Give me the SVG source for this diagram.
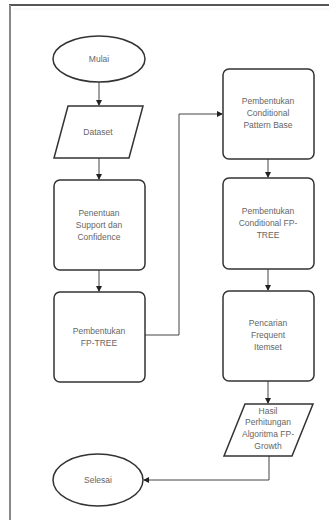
<svg xmlns="http://www.w3.org/2000/svg" width="329" height="520" viewBox="0 0 329 520">
<style>
.s{fill:#fff;stroke:#333;stroke-width:1.5}
.t{font-family:"Liberation Sans",Arial,sans-serif;font-size:8.5px;fill:#666;text-anchor:middle}
.c{fill:none;stroke:#444;stroke-width:1}
</style>
<defs>
<marker id="a" markerWidth="6" markerHeight="6" refX="5" refY="3" orient="auto" markerUnits="userSpaceOnUse">
<path d="M0,0 L6,3 L0,6 Z" fill="#222"/>
</marker>
</defs>
<rect width="329" height="520" fill="#fff"/>
<line x1="9" y1="5" x2="329" y2="5" stroke="#555" stroke-width="2"/>
<line x1="10" y1="5" x2="10" y2="520" stroke="#888" stroke-width="2"/>
<line x1="13" y1="9" x2="329" y2="9" stroke="#eee" stroke-width="1"/>
<g id="connectors">
<path class="c" d="M99,82 V105" marker-end="url(#a)"/>
<path class="c" d="M99,158 V179" marker-end="url(#a)"/>
<path class="c" d="M99,270 V291" marker-end="url(#a)"/>
<path class="c" d="M145,335 H179 V114 H222" marker-end="url(#a)"/>
<path class="c" d="M268,159 V177" marker-end="url(#a)"/>
<path class="c" d="M268,269 V290" marker-end="url(#a)"/>
<path class="c" d="M268,381 V403" marker-end="url(#a)"/>
<path class="c" d="M269,456 V480 H144" marker-end="url(#a)"/>
</g>
<g id="mulai">
<ellipse class="s" cx="99" cy="59" rx="46" ry="23"/>
<text class="t" x="99" y="62">Mulai</text>
</g>
<g id="dataset">
<polygon class="s" points="68,106 143,106 129,158 54,158"/>
<text class="t" x="98" y="135">Dataset</text>
</g>
<g id="penentuan">
<rect class="s" x="54" y="180" width="91" height="90" rx="6"/>
<text class="t" x="99" y="216">Penentuan</text>
<text class="t" x="99" y="228">Support dan</text>
<text class="t" x="99" y="240">Confidence</text>
</g>
<g id="fptree">
<rect class="s" x="54" y="292" width="91" height="90" rx="6"/>
<text class="t" x="99" y="334">Pembentukan</text>
<text class="t" x="99" y="346">FP-TREE</text>
</g>
<g id="cpb">
<rect class="s" x="223" y="69" width="91" height="90" rx="6"/>
<text class="t" x="268" y="104">Pembentukan</text>
<text class="t" x="268" y="116">Conditional</text>
<text class="t" x="268" y="128">Pattern Base</text>
</g>
<g id="cfptree">
<rect class="s" x="223" y="178" width="91" height="91" rx="6"/>
<text class="t" x="268" y="214">Pembentukan</text>
<text class="t" x="268" y="226">Conditional FP-</text>
<text class="t" x="268" y="238">TREE</text>
</g>
<g id="pencarian">
<rect class="s" x="223" y="291" width="91" height="90" rx="6"/>
<text class="t" x="268" y="326">Pencarian</text>
<text class="t" x="268" y="338">Frequent</text>
<text class="t" x="268" y="350">Itemset</text>
</g>
<g id="hasil">
<polygon class="s" points="245,404 313,404 292,456 224,456"/>
<text class="t" x="268" y="414">Hasil</text>
<text class="t" x="268" y="425">Perhitungan</text>
<text class="t" x="268" y="437">Algoritma FP-</text>
<text class="t" x="268" y="449">Growth</text>
</g>
<g id="selesai">
<ellipse class="s" cx="98" cy="480" rx="45" ry="26"/>
<text class="t" x="98" y="483">Selesai</text>
</g>
</svg>
